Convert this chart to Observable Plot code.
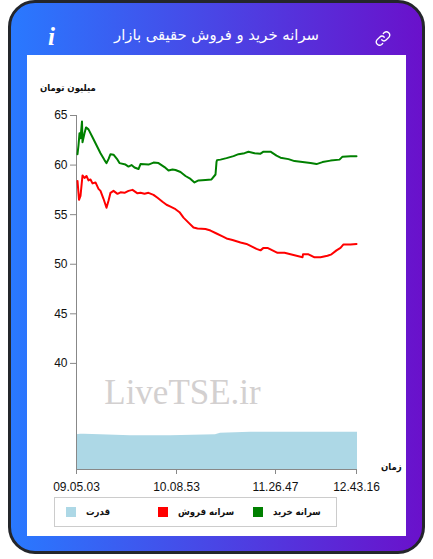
<!DOCTYPE html>
<html lang="fa"><head><meta charset="utf-8">
<script src="https://cdn.jsdelivr.net/npm/d3@7"></script>
<script src="https://cdn.jsdelivr.net/npm/@observablehq/plot@0.6"></script>
<style>
html,body{margin:0;padding:0;background:#fff;width:433px;height:559px;overflow:hidden}
body{position:relative;font-family:"DejaVu Sans",sans-serif}
#frame{position:absolute;left:8px;top:0;width:411px;height:548px;border:3px solid #24262b;border-radius:27px;background:linear-gradient(90deg,#2979ff,#6a11cb)}
#panel{position:absolute;left:27px;top:55px;width:379px;height:481px;background:#fff}
#title{position:absolute;left:27px;width:379px;top:24px;text-align:center;color:#fff;font-size:14.8px;line-height:22px;direction:rtl}
#info{position:absolute;left:48px;top:22px;color:#fff;font:italic bold 25px/30px "Liberation Serif",serif}
#link{position:absolute;left:375px;top:30px}
#unit,#time,.lb{font-family:"DejaVu Sans Condensed","DejaVu Sans",sans-serif;font-weight:bold;font-size:9.5px;line-height:14px;color:#111;direction:rtl;white-space:nowrap}
#unit{position:absolute;left:40px;top:81px}
#time{position:absolute;left:381px;top:460px}
#chart{position:absolute;left:27px;top:100px}
#chart svg{display:block;overflow:visible}
#legend{position:absolute;left:54px;top:497px;width:281px;height:28px;border:1px solid #ccc;background:#fff}
.sw{position:absolute;top:9px;width:10px;height:10px}
.lb{position:absolute;top:7px}
</style></head><body>
<div id="frame"></div>
<div id="panel"></div>
<div id="title">سرانه خرید و فروش حقیقی بازار</div>
<div id="info">i</div>
<svg id="link" width="16" height="17" viewBox="0 0 24 24" fill="none" stroke="#fff" stroke-width="2" stroke-linecap="round"><path d="M10 14a5 5 0 0 0 7 0l4-4a5 5 0 0 0-7-7l-1.500 1.500"/><path d="M14 10a5 5 0 0 0-7 0l-4 4a5 5 0 0 0 7 7l1.500-1.500"/></svg>
<div id="unit">میلیون تومان</div>
<div id="chart"></div>
<div id="time">زمان</div>
<div id="legend"></div>
<script>
const tickSamples = [0, 100, 199, 280];
const tickLabels = ["09.05.03", "10.08.53", "11.26.47", "12.43.16"];
const yTicks = [65, 60, 55, 50, 45, 40];
const buySamples = [1,2,3,4,5.5,6,8,9.5,12,16,20,24,28,30,32,34,37,41,43,49,52,55,58,62,64,72,77,82,88,92,96,99,104,109,114,118,122,129,135,139,140,140.5,144,150,157,162,168,172,178,184,187,194,200,204,212,218,226,234,240,246,254,263,266,274,280];
const buyValues = [61.1,62,63.2,62.7,64.4,62.3,63.2,63.8,63.6,62.8,62,61.2,60.5,60.2,60.6,61.1,61.05,60.55,60.2,60.05,59.85,60,59.75,59.6,60.1,60.05,60.25,60.2,59.8,59.45,59.55,59.5,59.3,58.9,58.6,58.25,58.45,58.5,58.55,59.05,60.3,60.5,60.55,60.7,60.9,61.1,61.2,61.35,61.2,61.15,61.35,61.35,60.95,60.75,60.6,60.4,60.3,60.2,60.1,60.3,60.45,60.55,60.85,60.9,60.9];
const sellSamples = [1,2.5,4,6,8,10,12,14,16,19,22,24,27,30,32,34,37,41,44,48,52,56,61,64,68,72,77,81,86,90,94,99,103,107,112,117,121,129,134,140,146,150,156,164,170,175,180,184,187,191,196,201,208,214,220,226,226.5,232,238,244,251,255,260,264,267,274,280];
const sellValues = [58.4,56.5,56.9,58.95,58.7,58.9,58.45,58.55,58.15,58.25,57.6,57.4,56.6,55.7,56.4,57.2,57.4,57.1,57.25,57.2,57.4,57.5,57.15,57.2,57.1,57.2,57,56.7,56.3,56,55.8,55.55,55.25,54.7,54.2,53.7,53.6,53.55,53.4,53.1,52.8,52.6,52.45,52.2,52.05,51.8,51.55,51.4,51.65,51.65,51.4,51.15,51.15,51,50.85,50.7,51,51,50.7,50.7,50.85,51,51.4,51.65,52,52,52.05];
const powerSamples = [0,4,8,24,54,94,139,144,174,281];
const powerValues = [32.8,32.85,32.85,32.8,32.7,32.7,32.8,32.95,33.05,33.05];
const watermark = "LiveTSE.ir";
const legendLabels = ["قدرت", "سرانه فروش", "سرانه خرید"];
const legendColors = ["#add8e6", "#ff0000", "#008000"];

const buy = buySamples.map((s, i) => ({s, v: buyValues[i]}));
const sell = sellSamples.map((s, i) => ({s, v: sellValues[i]}));
const power = powerSamples.map((s, i) => ({s, v: powerValues[i]}));
const yBase = 29.3;
const fmt = d => tickLabels[tickSamples.indexOf(d)];

const plot = Plot.plot({
  width: 379, height: 395,
  marginLeft: 49, marginRight: 49, marginTop: 15, marginBottom: 26,
  style: {background: "transparent", fontFamily: '"Liberation Sans",Arial,sans-serif', fontSize: "12px", color: "#111"},
  x: {domain: [0, 281], label: null},
  y: {domain: [yBase, 65], label: null},
  marks: [
    Plot.areaY(power, {x: "s", y1: yBase, y2: "v", fill: "#add8e6", curve: "linear"}),
    Plot.text([watermark], {x: 106, y: 37, text: d => d, fill: "#d3d0d0", fontSize: 35, fontFamily: '"Liberation Serif",serif', textAnchor: "middle"}),
    Plot.ruleY([yBase], {stroke: "#888", strokeWidth: 1}),
    Plot.ruleX([0], {stroke: "#888", strokeWidth: 1}),
    Plot.axisX({ticks: tickSamples, tickFormat: fmt, tickSize: 5, tickPadding: 8, stroke: "#888", label: null, fill: "#111"}),
    Plot.axisY({ticks: yTicks, tickSize: 6, tickPadding: 3, stroke: "#888", label: null, fill: "#111"}),
    Plot.line(buy, {x: "s", y: "v", stroke: "#008000", strokeWidth: 2, curve: "linear"}),
    Plot.line(sell, {x: "s", y: "v", stroke: "#ff0000", strokeWidth: 2, curve: "linear"})
  ]
});
document.getElementById("chart").appendChild(plot);

const legend = document.getElementById("legend");
[[11, 31], [103, 123], [198, 218]].forEach(([sw, lb], i) => {
  const a = document.createElement("div"); a.className = "sw";
  a.style.left = sw + "px"; a.style.background = legendColors[i]; legend.appendChild(a);
  const b = document.createElement("div"); b.className = "lb";
  b.style.left = lb + "px"; b.textContent = legendLabels[i]; legend.appendChild(b);
});
</script>
</body></html>
